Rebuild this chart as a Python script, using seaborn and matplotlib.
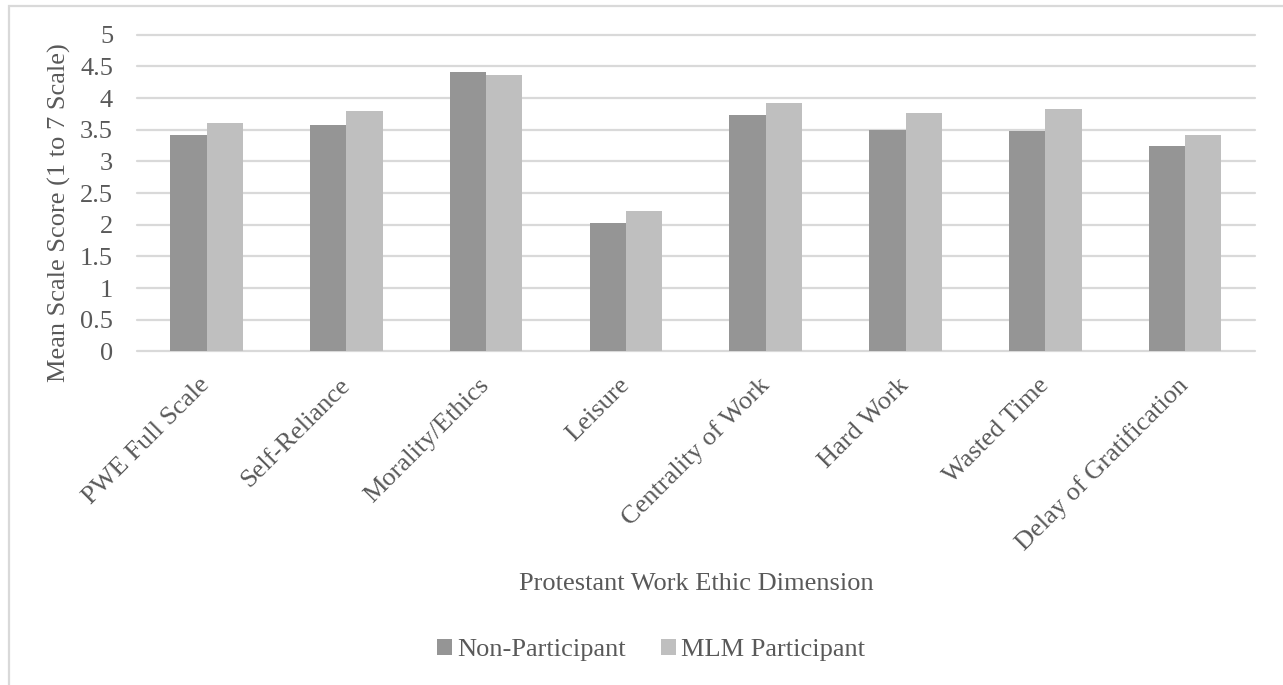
import matplotlib
matplotlib.use("Agg")
import matplotlib.pyplot as plt
from matplotlib.patches import Rectangle
import seaborn as sns
import pandas as pd

# Mean PWE scores by dimension and group
categories = ["PWE Full Scale", "Self-Reliance", "Morality/Ethics", "Leisure",
              "Centrality of Work", "Hard Work", "Wasted Time", "Delay of Gratification"]
non_participant = [3.42, 3.58, 4.41, 2.03, 3.73, 3.49, 3.48, 3.24]
mlm_participant = [3.61, 3.80, 4.37, 2.21, 3.92, 3.77, 3.83, 3.41]
groups = ["Non-Participant", "MLM Participant"]
y_ticks = [0, 0.5, 1, 1.5, 2, 2.5, 3, 3.5, 4, 4.5, 5]
y_tick_labels = ["0", "0.5", "1", "1.5", "2", "2.5", "3", "3.5", "4", "4.5", "5"]

df = pd.DataFrame({
    "Dimension": categories * 2,
    "Group": [groups[0]] * len(categories) + [groups[1]] * len(categories),
    "Score": non_participant + mlm_participant,
})

sns.set_theme(style="white")
plt.rcParams["font.family"] = ["Liberation Serif", "DejaVu Serif"]
TEXT = "#595959"
GRID = "#D9D9D9"
FS = 19

fig = plt.figure(figsize=(12.83, 6.85), dpi=100)
ax = fig.add_axes([0.1065, 0.4871, 0.8717, 0.4622])

sns.barplot(data=df, x="Dimension", y="Score", hue="Group", order=categories,
            hue_order=groups, palette=["#959595", "#BFBFBF"], width=0.52,
            saturation=1, linewidth=0, ax=ax, legend=True)

ax.set_xlim(-0.5, len(categories) - 0.5)
ax.set_ylim(0, 5)
ax.set_yticks(y_ticks)
ax.set_yticklabels(y_tick_labels)
ax.yaxis.grid(True, color=GRID, linewidth=1.6)
ax.set_axisbelow(True)
for gl in ax.yaxis.get_gridlines():
    gl.set_clip_on(False)
for s in ax.spines.values():
    s.set_visible(False)

ax.tick_params(axis="y", length=0, pad=17, labelsize=FS, labelcolor=TEXT)
ax.tick_params(axis="x", length=0, pad=22, labelsize=FS, labelcolor=TEXT)
for lbl in ax.get_yticklabels():
    lbl.set_horizontalalignment("right")
for lbl in ax.get_xticklabels():
    lbl.set_rotation(45)
    lbl.set_rotation_mode("anchor")
    lbl.set_horizontalalignment("right")
    lbl.set_verticalalignment("center")

ax.set_ylabel("Mean Scale Score (1 to 7 Scale)", fontsize=FS, color=TEXT, va="center")
ax.yaxis.set_label_coords(-0.0686, 0.437)
ax.set_xlabel("Protestant Work Ethic Dimension", fontsize=FS, color=TEXT, va="center")
ax.xaxis.set_label_coords(0.5, -0.735)

handles, labels = ax.get_legend_handles_labels()
ax.get_legend().remove()
fig.legend(handles, labels, loc="center", bbox_to_anchor=(651 / 1283, 1 - 650 / 685),
           ncol=2, frameon=False, fontsize=FS, labelcolor=TEXT,
           handlelength=0.55, handleheight=0.55, handletextpad=0.2, columnspacing=1.35)

# chart area border
fig.add_artist(Rectangle((9 / 1283, -0.1), 1.2, 1.1 - 6 / 685, transform=fig.transFigure,
                         fill=False, edgecolor=GRID, linewidth=1.6))

fig.savefig("out.png", dpi=100)
